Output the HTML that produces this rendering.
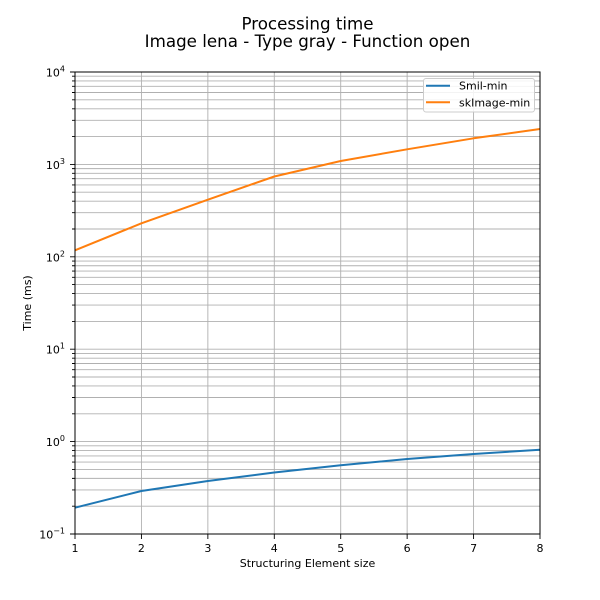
<!DOCTYPE html>
<html><head><meta charset="utf-8"><style>
html,body{margin:0;padding:0;background:#fff;}
svg{display:block;font-family:"DejaVu Sans","Liberation Sans",sans-serif;}
</style></head><body>
<svg width="600" height="600" viewBox="0 0 600 600" xmlns="http://www.w3.org/2000/svg">
<rect width="600" height="600" fill="#fff"/>
<!-- title -->
<text x="307.5" y="29.5" font-size="16.7" text-anchor="middle" fill="#000">Processing time</text>
<text x="307.5" y="47" font-size="16.7" text-anchor="middle" fill="#000">Image lena - Type gray - Function open</text>
<!-- grid -->
<g stroke="#b0b0b0" stroke-width="0.9" fill="none">
<path d="M75 506.19H540M75 489.91H540M75 478.37H540M75 469.41H540M75 462.10H540M75 455.91H540M75 450.55H540M75 445.83H540
M75 441.6H540
M75 413.79H540M75 397.51H540M75 385.97H540M75 377.01H540M75 369.70H540M75 363.51H540M75 358.15H540M75 353.43H540
M75 349.2H540
M75 321.39H540M75 305.11H540M75 293.57H540M75 284.61H540M75 277.30H540M75 271.11H540M75 265.75H540M75 261.03H540
M75 256.8H540
M75 228.99H540M75 212.71H540M75 201.17H540M75 192.21H540M75 184.90H540M75 178.71H540M75 173.35H540M75 168.63H540
M75 164.4H540
M75 136.59H540M75 120.31H540M75 108.77H540M75 99.81H540M75 92.50H540M75 86.31H540M75 80.95H540M75 76.23H540
M141.43 72V534M207.86 72V534M274.29 72V534M340.71 72V534M407.14 72V534M473.57 72V534"/>
</g>
<!-- series -->
<polyline fill="none" stroke="#1f77b4" stroke-width="2" stroke-linejoin="round" points="75,507.7 141.43,491 207.86,481 274.29,472.5 340.71,465.3 407.14,459 473.57,454 540,449.7"/>
<polyline fill="none" stroke="#ff7f0e" stroke-width="2" stroke-linejoin="round" points="75,250.3 141.43,223.3 207.86,199.7 274.29,176.5 340.71,161 407.14,149.3 473.57,138.3 540,129"/>
<!-- spines -->
<rect x="75" y="72" width="465" height="462" fill="none" stroke="#000" stroke-width="1"/>
<!-- y ticks -->
<g stroke="#000" stroke-width="0.9">
<path d="M70 534H75M70 441.6H75M70 349.2H75M70 256.8H75M70 164.4H75M70 72H75"/>
<path d="M72 506.19H75M72 489.91H75M72 478.37H75M72 469.41H75M72 462.10H75M72 455.91H75M72 450.55H75M72 445.83H75
M72 413.79H75M72 397.51H75M72 385.97H75M72 377.01H75M72 369.70H75M72 363.51H75M72 358.15H75M72 353.43H75
M72 321.39H75M72 305.11H75M72 293.57H75M72 284.61H75M72 277.30H75M72 271.11H75M72 265.75H75M72 261.03H75
M72 228.99H75M72 212.71H75M72 201.17H75M72 192.21H75M72 184.90H75M72 178.71H75M72 173.35H75M72 168.63H75
M72 136.59H75M72 120.31H75M72 108.77H75M72 99.81H75M72 92.50H75M72 86.31H75M72 80.95H75M72 76.23H75"/>
<path d="M75 534V539M141.43 534V539M207.86 534V539M274.29 534V539M340.71 534V539M407.14 534V539M473.57 534V539M540 534V539"/>
</g>
<!-- y tick labels -->
<g font-size="11" fill="#000" text-anchor="end">
<text x="65" y="538.5">10<tspan font-size="8" dy="-5">−1</tspan></text>
<text x="65" y="446.1">10<tspan font-size="8" dy="-5">0</tspan></text>
<text x="65" y="353.7">10<tspan font-size="8" dy="-5">1</tspan></text>
<text x="65" y="261.3">10<tspan font-size="8" dy="-5">2</tspan></text>
<text x="65" y="168.9">10<tspan font-size="8" dy="-5">3</tspan></text>
<text x="65" y="76.5">10<tspan font-size="8" dy="-5">4</tspan></text>
</g>
<!-- x tick labels -->
<g font-size="11" fill="#000" text-anchor="middle">
<text x="75" y="552">1</text>
<text x="141.43" y="552">2</text>
<text x="207.86" y="552">3</text>
<text x="274.29" y="552">4</text>
<text x="340.71" y="552">5</text>
<text x="407.14" y="552">6</text>
<text x="473.57" y="552">7</text>
<text x="540" y="552">8</text>
</g>
<text x="307.5" y="567" font-size="11" text-anchor="middle" fill="#000">Structuring Element size</text>
<text transform="translate(31,303) rotate(-90)" font-size="11" text-anchor="middle" fill="#000">Time (ms)</text>
<!-- legend -->
<rect x="423.5" y="78.5" width="111" height="33.5" rx="2.5" fill="#fff" fill-opacity="0.85" stroke="#cccccc" stroke-width="1"/>
<line x1="426" y1="85.7" x2="450" y2="85.7" stroke="#1f77b4" stroke-width="2"/>
<line x1="426" y1="102.3" x2="450" y2="102.3" stroke="#ff7f0e" stroke-width="2"/>
<text x="459" y="89.7" font-size="11" fill="#000">Smil-min</text>
<text x="459" y="106.3" font-size="11" fill="#000">skImage-min</text>
</svg>
</body></html>
